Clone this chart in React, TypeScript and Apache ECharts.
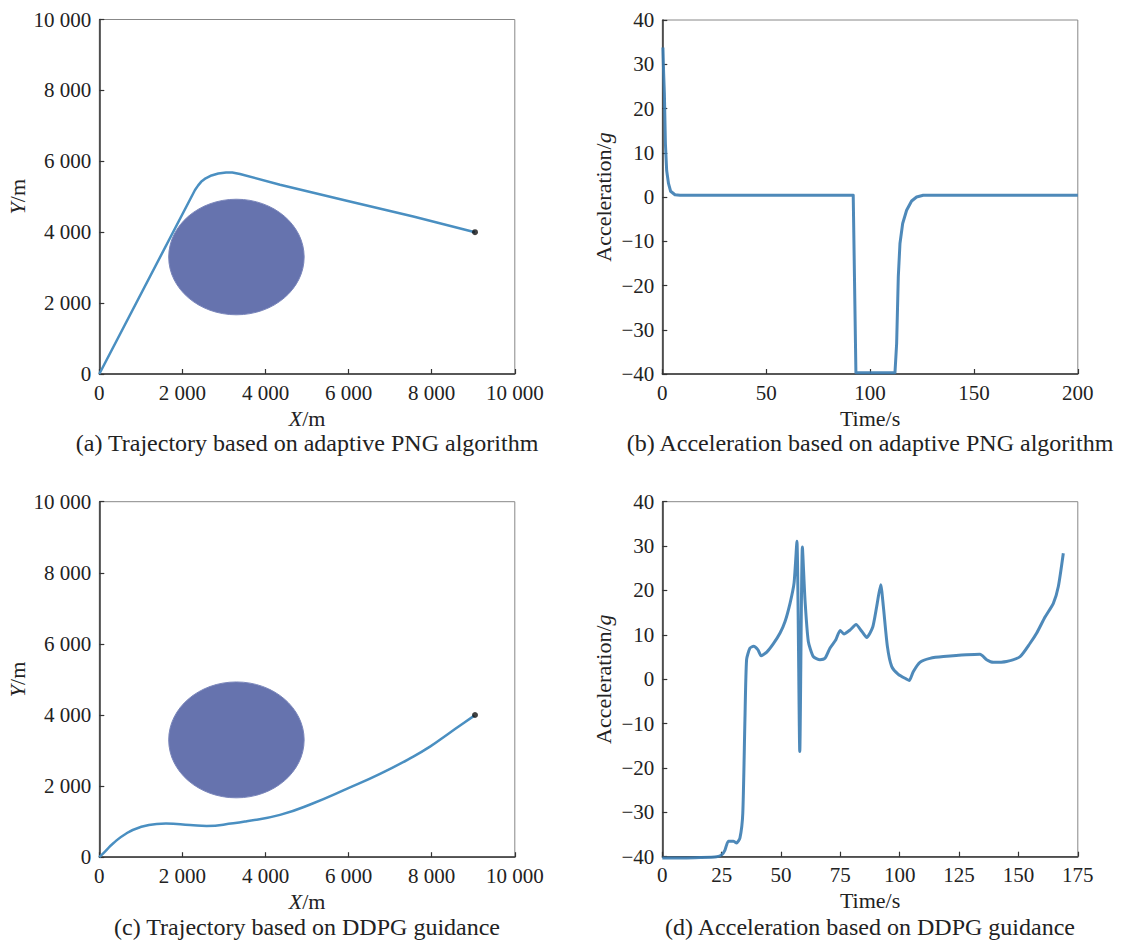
import React, { useEffect, useRef } from "react";
import * as echarts from "echarts";

const FONT = "Liberation Serif, Times New Roman, serif";

// Obstacle: centre X, centre Y, radius (m)
const obstacle = [3300, 3300, 1630];
const target = [9042, 4000];

// (a) adaptive PNG trajectory
const trajAX = [0, 2303, 2380, 2450, 2560, 2700, 2864, 3050, 3200, 3386, 4349, 5954, 7557, 9042];
const trajAY = [0, 5190, 5320, 5420, 5520, 5600, 5655, 5685, 5685, 5642, 5340, 4885, 4445, 3997];

// (c) DDPG trajectory
const trajCX = [0, 137, 337, 659, 980, 1381, 1604, 2183, 2584, 3226, 3548, 4349, 5150, 5954, 6756, 7557, 7959, 8361, 8762, 9026];
const trajCY = [0, 158, 394, 675, 844, 936, 945, 908, 880, 955, 1012, 1190, 1518, 1921, 2343, 2829, 3110, 3439, 3768, 3982];

// (b) acceleration, adaptive PNG
const timeB = [0.3, 0.66, 1.0, 1.5, 2.1, 3.0, 4.0, 6.1, 8.5, 91.9, 93.2, 112.0, 112.8, 113.6, 114.4, 115.7, 117.6, 120.0, 122.4, 125.6, 200];
const accB = [33.8, 27.8, 23.3, 12.0, 6.0, 3.0, 1.3, 0.5, 0.4, 0.4, -39.7, -39.7, -33.1, -18.0, -10.5, -6.0, -3.0, -0.9, 0, 0.4, 0.4];

// (d) acceleration, DDPG
const timeD = [0, 8.9, 15.9, 22.9, 25.0, 26.4, 27.8, 29.9, 31.3, 32.7, 33.9, 34.8, 35.5, 36.9, 38.4, 40.3, 41.6, 44.0, 46.8, 49.6, 51.7, 53.8, 55.5, 56.7, 57.9, 59.0, 60.1, 61.5, 63.6, 66.4, 68.5, 70.6, 73.1, 74.9, 76.5, 79.1, 81.6, 84.0, 86.1, 88.6, 90.3, 92.0, 93.1, 94.8, 96.6, 99.4, 102.9, 104.0, 105.7, 108.5, 112.7, 118.4, 133.8, 136.6, 139.4, 145.0, 150.7, 154.9, 157.7, 161.2, 164.7, 166.8, 168.9];
const accD = [-40.3, -40.3, -40.2, -40, -39.6, -38.5, -36.5, -36.5, -36.9, -35.8, -30.2, -9.2, 4.4, 7.0, 7.4, 6.6, 5.3, 6.1, 8.0, 10.4, 13.0, 17.1, 21.7, 31.1, -16.3, 29.8, 17.9, 8.5, 5.1, 4.4, 4.7, 7.0, 8.9, 11.0, 10.2, 11.1, 12.3, 10.8, 9.4, 11.7, 16.4, 21.3, 16.4, 7.4, 2.9, 1.1, 0, -0.3, 1.7, 3.8, 4.7, 5.1, 5.6, 4.4, 3.8, 4.0, 5.1, 8.1, 10.4, 14.0, 17.1, 20.9, 28.4];

const captions = [
  "(a) Trajectory based on adaptive PNG algorithm",
  "(b) Acceleration based on adaptive PNG algorithm",
  "(c) Trajectory based on DDPG guidance",
  "(d) Acceleration based on DDPG guidance",
];

const zip = (a: number[], b: number[]) => a.map((v, i) => [v, b[i]]);
const thousands = (v: number) => String(v).replace(/\B(?=(\d{3})+(?!\d))/g, " ");
const minus = (v: number) => String(v).replace("-", "\u2212");

const TRAJ_COLOR = "#4a8fc1";
const ACC_COLOR = "#3b7cb1";
const DISK_COLOR = "#6673ae";

export default function App() {
  const ref = useRef<HTMLDivElement>(null);
  useEffect(() => {
    if (!ref.current) return;
    const chart = echarts.init(ref.current, undefined, { renderer: "svg" });

    const gridsPos = [
      { left: 99.3, top: 19.5, width: 415.5, height: 354.5 },
      { left: 662.3, top: 20, width: 415.5, height: 354 },
      { left: 99.3, top: 501.7, width: 415.5, height: 355.5 },
      { left: 662.3, top: 501.7, width: 415.5, height: 355 },
    ];
    const grid = gridsPos.map((g) => ({
      ...g,
      show: true,
      borderColor: "#888",
      borderWidth: 1,
      containLabel: false,
      outerBoundsMode: "none",
    }));

    const rich = { i: { fontStyle: "italic", fontFamily: FONT, fontSize: 22, color: "#222" } };
    const base = (gridIndex: number) => ({
      gridIndex,
      type: "value",
      axisLine: { show: true, onZero: false, lineStyle: { color: "#333", width: 1.5 } },
      axisTick: { show: true, inside: true, length: 5, lineStyle: { color: "#333", width: 1.2 } },
      axisLabel: { color: "#222", fontFamily: FONT, fontSize: 21, margin: 8 },
      splitLine: { show: false },
      nameLocation: "middle",
      nameTextStyle: { color: "#222", fontFamily: FONT, fontSize: 22, rich },
    });

    const posX = (gi: number) => ({
      ...base(gi), min: 0, max: 10000, interval: 2000, name: "{i|X}/m", nameGap: 33,
      axisLabel: { ...base(gi).axisLabel, formatter: (v: number) => thousands(v) },
    });
    const posY = (gi: number) => ({
      ...base(gi), min: 0, max: 10000, interval: 2000, name: "{i|Y}/m", nameGap: 71,
      axisLabel: { ...base(gi).axisLabel, formatter: (v: number) => thousands(v) },
    });
    const accY = (gi: number) => ({
      ...base(gi), min: -40, max: 40, interval: 10, name: "Acceleration/{i|g}", nameGap: 48,
      axisLabel: { ...base(gi).axisLabel, formatter: (v: number) => minus(v) },
    });

    const diskSeries = (gi: number) => ({
      type: "custom",
      xAxisIndex: gi,
      yAxisIndex: gi,
      z: 1,
      data: [obstacle],
      renderItem: (params: any, api: any) => {
        const c = api.coord([api.value(0), api.value(1)]);
        const s = api.size([api.value(2), api.value(2)]);
        return {
          type: "ellipse",
          shape: { cx: c[0], cy: c[1], rx: s[0], ry: s[1] },
          style: { fill: DISK_COLOR, stroke: "#7a86bb", lineWidth: 1 },
        };
      },
    });
    const targetSeries = (gi: number) => ({
      type: "scatter",
      xAxisIndex: gi,
      yAxisIndex: gi,
      z: 4,
      symbolSize: 6,
      itemStyle: { color: "#111" },
      data: [target],
    });

    const option: any = {
      animation: false,
      backgroundColor: "#fff",
      textStyle: { fontFamily: FONT },
      grid,
      xAxis: [
        posX(0),
        { ...base(1), min: 0, max: 200, interval: 50, name: "Time/s", nameGap: 33 },
        posX(2),
        { ...base(3), min: 0, max: 175, interval: 25, name: "Time/s", nameGap: 33 },
      ],
      yAxis: [posY(0), accY(1), posY(2), accY(3)],
      series: [
        diskSeries(0),
        {
          type: "line", xAxisIndex: 0, yAxisIndex: 0, z: 3, showSymbol: false, smooth: false,
          lineStyle: { color: TRAJ_COLOR, width: 2.5, join: "round" }, data: zip(trajAX, trajAY),
        },
        targetSeries(0),
        {
          type: "line", xAxisIndex: 1, yAxisIndex: 1, z: 3, showSymbol: false, smooth: false,
          lineStyle: { color: ACC_COLOR, width: 3, opacity: 0.9, join: "round" }, data: zip(timeB, accB),
        },
        diskSeries(2),
        {
          type: "line", xAxisIndex: 2, yAxisIndex: 2, z: 3, showSymbol: false, smooth: 0.5,
          lineStyle: { color: TRAJ_COLOR, width: 2.5 }, data: zip(trajCX, trajCY),
        },
        targetSeries(2),
        {
          type: "line", xAxisIndex: 3, yAxisIndex: 3, z: 3, showSymbol: false, smooth: 0.2, clip: false,
          lineStyle: { color: ACC_COLOR, width: 3, opacity: 0.9, join: "round" }, data: zip(timeD, accD),
        },
      ],
      graphic: captions.map((t, i) => ({
        type: "text",
        x: gridsPos[i].left + gridsPos[i].width / 2,
        y: i < 2 ? 443 : 927,
        style: {
          text: t,
          fontSize: 24,
          fontFamily: FONT,
          fill: "#222",
          align: "center",
          verticalAlign: "middle",
          textAlign: "center",
          textVerticalAlign: "middle",
        },
      })),
    };
    chart.setOption(option);
    return () => chart.dispose();
  }, []);
  return (
    <div
      ref={ref}
      style={{ position: "fixed", left: 0, top: 0, width: 1122, height: 943, background: "#fff" }}
    />
  );
}
